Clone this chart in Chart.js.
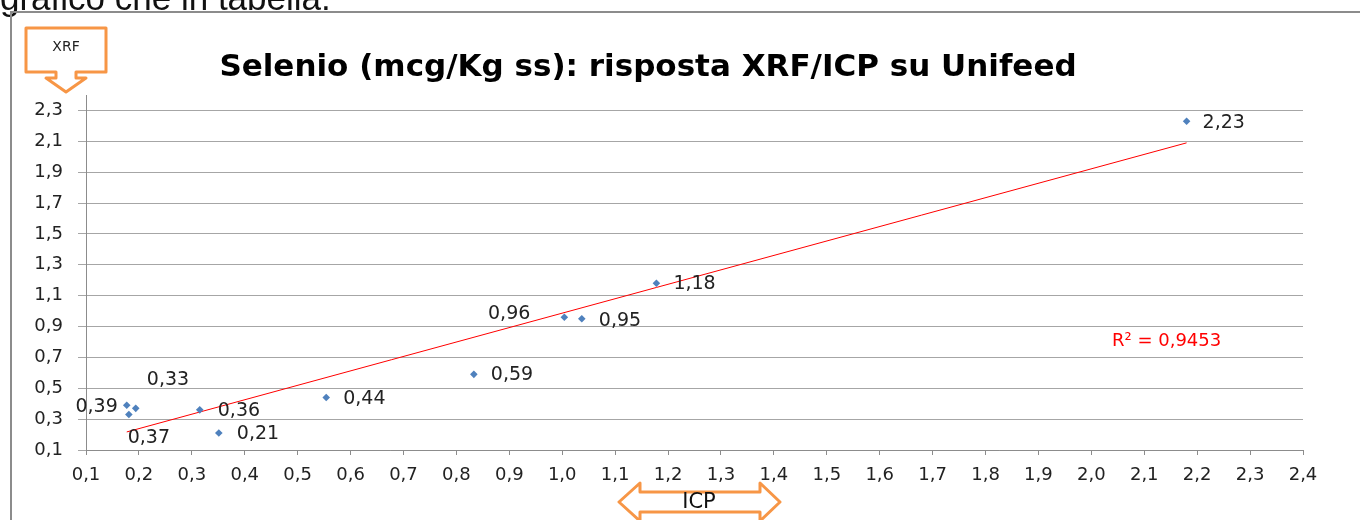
<!DOCTYPE html>
<html>
<head>
<meta charset="utf-8">
<title>Selenio XRF/ICP</title>
<script src="https://cdn.jsdelivr.net/npm/chart.js@4.4.1/dist/chart.umd.min.js"></script>
<style>
  html, body { margin: 0; padding: 0; background: #fff; }
  #wrap { position: relative; width: 1360px; height: 520px; }
</style>
</head>
<body>
<div id="wrap"><canvas id="chart" width="1360" height="520"></canvas></div>
<script>
// ICP (x) vs XRF (y)
const icpValues = [0.177, 0.181, 0.194, 0.315, 0.351, 0.554, 0.833, 1.004, 1.037, 1.178, 2.18];
const xrfValues = [0.39, 0.33, 0.37, 0.36, 0.21, 0.44, 0.59, 0.96, 0.95, 1.18, 2.23];

// trend line end points as drawn in the picture
const trendX = [0.177, 2.18];
const trendY = [0.217, 2.09];

const xTicks = [0.1, 0.2, 0.3, 0.4, 0.5, 0.6, 0.7, 0.8, 0.9, 1.0, 1.1, 1.2,
                1.3, 1.4, 1.5, 1.6, 1.7, 1.8, 1.9, 2.0, 2.1, 2.2, 2.3, 2.4];
const yTicks = [0.1, 0.3, 0.5, 0.7, 0.9, 1.1, 1.3, 1.5, 1.7, 1.9, 2.1, 2.3];

const titleText = 'Selenio (mcg/Kg ss): risposta XRF/ICP su Unifeed';
const r2Text = 'R² = 0,9453';

// label placement per point: [dx, dy, align]
const labelPlacement = [
  [-9, 2, 'right'], [18, -34, 'left'], [-8, 30, 'left'], [18, 1, 'left'],
  [18, 1, 'left'], [17, 2, 'left'], [17, 1, 'left'], [-34, -3, 'right'],
  [17, 2, 'left'], [17, 1, 'left'], [16, 2, 'left']
];

const FONT = "'DejaVu Sans', sans-serif";
const ORANGE = '#F79646';
const comma = v => v.toFixed(1).replace('.', ',');

const pageDecor = {
  id: 'pageDecor',
  beforeDraw(chart) {
    const ctx = chart.ctx;
    ctx.save();
    ctx.fillStyle = '#fff';
    ctx.fillRect(0, 0, chart.width, chart.height);
    // bit of document text cut at the top
    ctx.fillStyle = '#111';
    ctx.font = "35px 'Liberation Sans', Arial, sans-serif";
    ctx.textBaseline = 'alphabetic';
    ctx.fillText('grafico che in tabella.', 0, 10);
    // frame
    ctx.strokeStyle = '#8c8c8c';
    ctx.lineWidth = 2;
    ctx.beginPath();
    ctx.moveTo(11, 520);
    ctx.lineTo(11, 12);
    ctx.lineTo(1360, 12);
    ctx.stroke();
    ctx.restore();
  },
  afterDraw(chart) {
    const ctx = chart.ctx;
    ctx.save();
    // title
    ctx.fillStyle = '#000';
    ctx.font = 'bold 31px ' + FONT;
    ctx.textAlign = 'center';
    ctx.textBaseline = 'alphabetic';
    ctx.fillText(titleText, 648, 76);

    // point labels
    const meta = chart.getDatasetMeta(0);
    ctx.font = '19px ' + FONT;
    ctx.fillStyle = '#222';
    ctx.textBaseline = 'middle';
    meta.data.forEach((pt, i) => {
      const [dx, dy, align] = labelPlacement[i];
      ctx.textAlign = align;
      ctx.fillText(xrfValues[i].toFixed(2).replace('.', ','), pt.x + dx, pt.y + dy);
    });

    // R² label
    ctx.fillStyle = '#ff0000';
    ctx.font = '18px ' + FONT;
    ctx.textAlign = 'left';
    ctx.fillText(r2Text, 1112, 341);

    // XRF callout
    ctx.strokeStyle = ORANGE;
    ctx.lineWidth = 3;
    ctx.lineJoin = 'round';
    ctx.fillStyle = '#fff';
    ctx.beginPath();
    ctx.moveTo(26, 28);
    ctx.lineTo(106, 28);
    ctx.lineTo(106, 72);
    ctx.lineTo(76, 72);
    ctx.lineTo(76, 78);
    ctx.lineTo(86, 78);
    ctx.lineTo(66, 92);
    ctx.lineTo(46, 78);
    ctx.lineTo(56, 78);
    ctx.lineTo(56, 72);
    ctx.lineTo(26, 72);
    ctx.closePath();
    ctx.fill();
    ctx.stroke();
    ctx.fillStyle = '#222';
    ctx.font = '14px ' + FONT;
    ctx.textAlign = 'center';
    ctx.fillText('XRF', 66, 47);

    // ICP double arrow
    ctx.fillStyle = '#fff';
    ctx.beginPath();
    ctx.moveTo(619, 502);
    ctx.lineTo(640, 483);
    ctx.lineTo(640, 492);
    ctx.lineTo(760, 492);
    ctx.lineTo(760, 483);
    ctx.lineTo(780, 502);
    ctx.lineTo(760, 521);
    ctx.lineTo(760, 512);
    ctx.lineTo(640, 512);
    ctx.lineTo(640, 521);
    ctx.closePath();
    ctx.fill();
    ctx.stroke();
    ctx.fillStyle = '#111';
    ctx.font = '21px ' + FONT;
    ctx.fillText('ICP', 699, 503);
    ctx.restore();
  }
};

new Chart(document.getElementById('chart'), {
  type: 'scatter',
  data: {
    datasets: [
      {
        label: 'Se',
        data: icpValues.map((x, i) => ({ x, y: xrfValues[i] })),
        pointStyle: 'rectRot',
        pointRadius: 3.8,
        backgroundColor: '#4F81BD',
        borderColor: '#4F81BD',
        borderWidth: 0
      },
      {
        type: 'line',
        label: 'trend',
        data: trendX.map((x, i) => ({ x, y: trendY[i] })),
        borderColor: '#ff0000',
        borderWidth: 1,
        pointRadius: 0,
        fill: false
      }
    ]
  },
  options: {
    responsive: false,
    animation: false,
    events: [],
    layout: { padding: { left: 11, top: 95, right: 57, bottom: 20 } },
    plugins: {
      legend: { display: false },
      tooltip: { enabled: false }
    },
    scales: {
      x: {
        type: 'linear',
        min: 0.1,
        max: 2.4,
        afterBuildTicks: s => { s.ticks = xTicks.map(value => ({ value })); },
        afterFit: s => { s.height = 50; },
        ticks: {
          callback: v => comma(v),
          color: '#222',
          font: { family: FONT, size: 18 },
          padding: 10,
          maxRotation: 0,
          autoSkip: false
        },
        grid: { drawOnChartArea: false, drawTicks: true, tickLength: 5, tickColor: '#8c8c8c' },
        border: { color: '#8c8c8c', width: 1 }
      },
      y: {
        type: 'linear',
        min: 0.1,
        max: 2.4,
        afterBuildTicks: s => { s.ticks = yTicks.map(value => ({ value })); },
        afterFit: s => { s.width = 75; },
        ticks: {
          callback: v => comma(v),
          color: '#222',
          font: { family: FONT, size: 18 },
          padding: 15,
          autoSkip: false
        },
        grid: { color: '#a6a6a6', lineWidth: 1, drawTicks: true, tickLength: 8, tickColor: '#a6a6a6' },
        border: { color: '#8c8c8c', width: 1 }
      }
    }
  },
  plugins: [pageDecor]
});
</script>
</body>
</html>
